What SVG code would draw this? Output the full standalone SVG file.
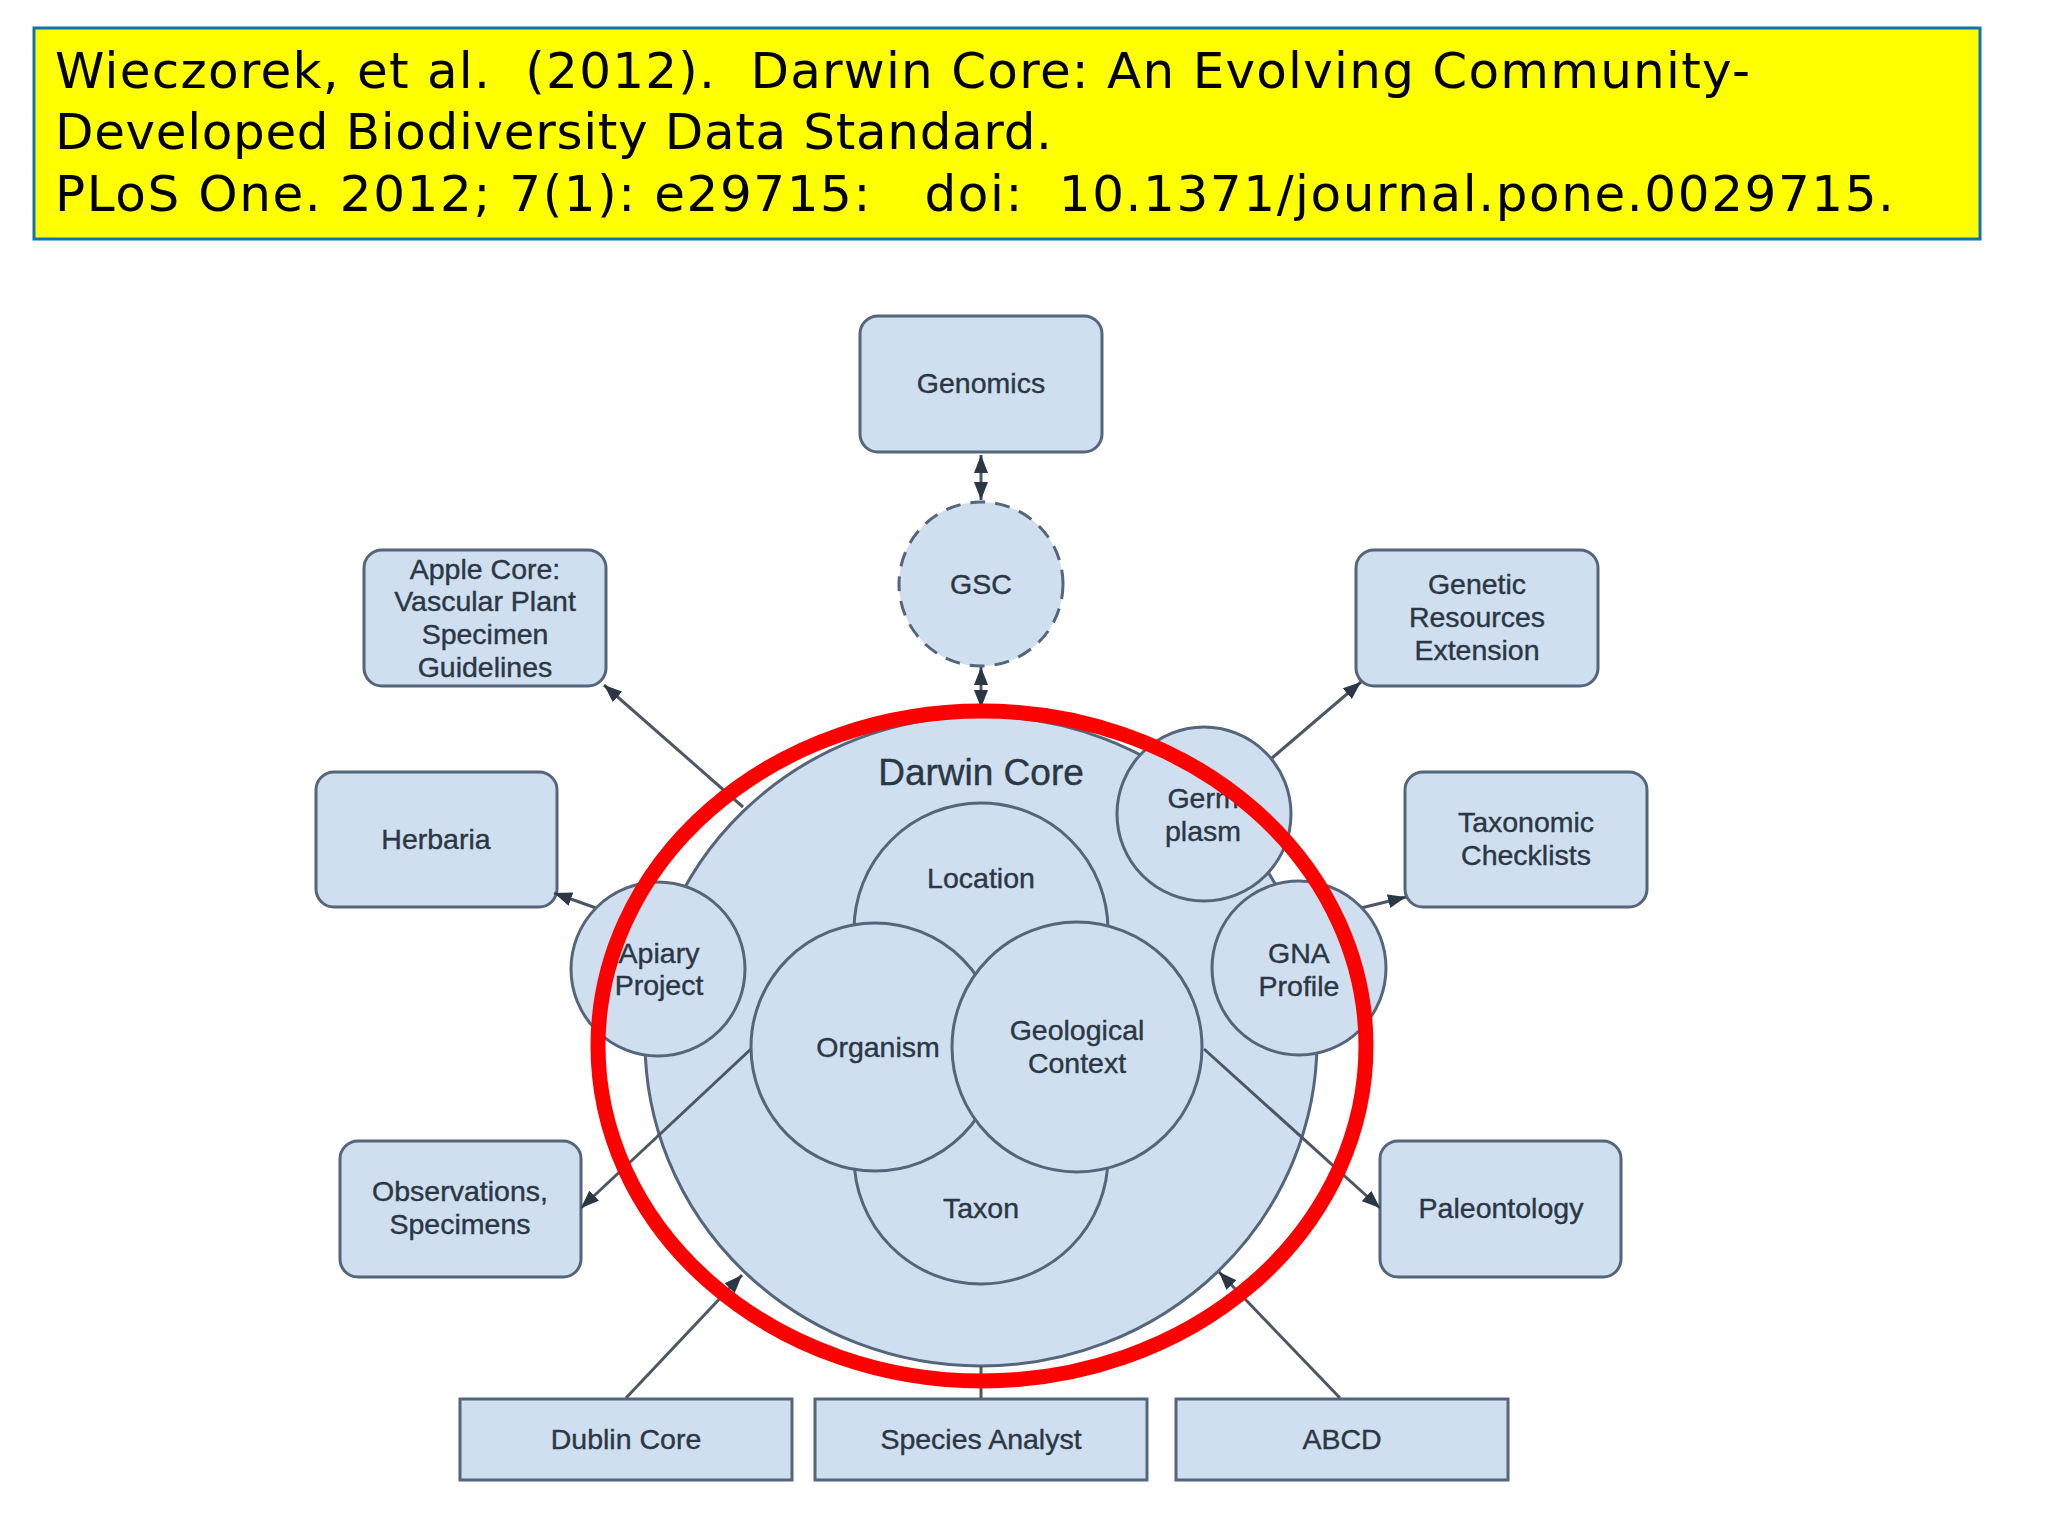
<svg xmlns="http://www.w3.org/2000/svg" width="2048" height="1536" viewBox="0 0 2048 1536">
<style>
.n{fill:#cfdfef;stroke:#55657a;stroke-width:3}
.t{font-family:"Liberation Sans",Arial,sans-serif;font-size:28.5px;fill:#2b3744;stroke:#2b3744;stroke-width:.4;text-anchor:middle}
.c{fill:none;stroke:#4d5764;stroke-width:3}
.h{font-family:"DejaVu Sans",Verdana,sans-serif;font-size:50px;fill:#000;white-space:pre}
</style>
<defs>
<marker id="a" markerUnits="userSpaceOnUse" markerWidth="20" markerHeight="16" refX="18" refY="8" orient="auto-start-reverse"><path d="M0 1L18 8L0 15Z" fill="#2b3744"/></marker>
</defs>
<rect width="2048" height="1536" fill="#fff"/>
<g id="citation">
<rect x="34" y="28" width="1946" height="211" fill="#ffff00" stroke="#0f73b5" stroke-width="3"/>
<text class="h" x="55" y="88" xml:space="preserve" textLength="1695" lengthAdjust="spacing">Wieczorek, et al.  (2012).  Darwin Core: An Evolving Community-</text>
<text class="h" x="55" y="149" xml:space="preserve" textLength="997" lengthAdjust="spacing">Developed Biodiversity Data Standard.</text>
<text class="h" x="55" y="211" xml:space="preserve" textLength="1839" lengthAdjust="spacing">PLoS One. 2012; 7(1): e29715:   doi:  10.1371/journal.pone.0029715.</text>
</g>
<g id="genomics"><rect class="n" x="860" y="316" width="242" height="136" rx="18"/><text class="t" x="981" y="393">Genomics</text></g>
<g id="gsc"><circle class="n" cx="981" cy="584" r="82" stroke-dasharray="15 10"/><text class="t" x="981" y="594">GSC</text></g>
<g id="apple-core"><rect class="n" x="364" y="550" width="242" height="136" rx="18"/>
<text class="t" x="485" y="579">Apple Core:</text><text class="t" x="485" y="611">Vascular Plant</text><text class="t" x="485" y="644">Specimen</text><text class="t" x="485" y="677">Guidelines</text></g>
<g id="genetic"><rect class="n" x="1356" y="550" width="242" height="136" rx="18"/>
<text class="t" x="1477" y="594">Genetic</text><text class="t" x="1477" y="627">Resources</text><text class="t" x="1477" y="660">Extension</text></g>
<g id="herbaria"><rect class="n" x="316" y="772" width="241" height="135" rx="18"/><text class="t" x="436" y="849">Herbaria</text></g>
<g id="taxonomic"><rect class="n" x="1405" y="772" width="242" height="135" rx="18"/>
<text class="t" x="1526" y="832">Taxonomic</text><text class="t" x="1526" y="865">Checklists</text></g>
<g id="observations"><rect class="n" x="340" y="1141" width="241" height="136" rx="18"/>
<text class="t" x="460" y="1201">Observations,</text><text class="t" x="460" y="1234">Specimens</text></g>
<g id="paleontology"><rect class="n" x="1380" y="1141" width="241" height="136" rx="18"/><text class="t" x="1501" y="1218">Paleontology</text></g>
<g id="dublin-core"><rect class="n" x="460" y="1399" width="332" height="81"/><text class="t" x="626" y="1449">Dublin Core</text></g>
<g id="species-analyst"><rect class="n" x="815" y="1399" width="332" height="81"/><text class="t" x="981" y="1449">Species Analyst</text></g>
<g id="abcd"><rect class="n" x="1176" y="1399" width="332" height="81"/><text class="t" x="1342" y="1449">ABCD</text></g>
<g id="darwin-core"><ellipse class="n" cx="981" cy="1041" rx="336" ry="325"/><text class="t" x="981" y="785" style="font-size:37px">Darwin Core</text></g>
<g id="connectors">
<path class="c" d="M981 455V500" marker-start="url(#a)" marker-end="url(#a)"/>
<path class="c" d="M981 667V708" marker-start="url(#a)" marker-end="url(#a)"/>
<path class="c" d="M743 807L604 685" marker-end="url(#a)"/>
<path class="c" d="M596 908L554 893" marker-end="url(#a)"/>
<path class="c" d="M751 1049L581 1208" marker-end="url(#a)"/>
<path class="c" d="M1204 1049L1380 1208" marker-end="url(#a)"/>
<path class="c" d="M1272 758L1361 682" marker-end="url(#a)"/>
<path class="c" d="M1361 908L1406 897" marker-end="url(#a)"/>
<path class="c" d="M626 1398L742 1275" marker-end="url(#a)"/>
<path class="c" d="M1340 1398L1219 1272" marker-end="url(#a)"/>
<path class="c" d="M981 1366V1398"/>
</g>
<g id="apiary"><circle class="n" cx="658" cy="969" r="87"/><text class="t" x="659" y="963">Apiary</text><text class="t" x="659" y="995">Project</text></g>
<g id="germplasm"><circle class="n" cx="1204" cy="814" r="87"/><text class="t" x="1203" y="808">Germ</text><text class="t" x="1203" y="841">plasm</text></g>
<g id="gna"><circle class="n" cx="1299" cy="968" r="87"/><text class="t" x="1299" y="963">GNA</text><text class="t" x="1299" y="996">Profile</text></g>
<g id="location"><circle class="n" cx="981" cy="930" r="127"/><text class="t" x="981" y="888">Location</text></g>
<g id="taxon"><circle class="n" cx="981" cy="1157" r="127"/><text class="t" x="981" y="1218">Taxon</text></g>
<g id="organism"><circle class="n" cx="875" cy="1047" r="124"/><text class="t" x="878" y="1057">Organism</text></g>
<g id="geological"><circle class="n" cx="1077" cy="1047" r="125"/><text class="t" x="1077" y="1040">Geological</text><text class="t" x="1077" y="1073">Context</text></g>
<ellipse id="highlight" cx="982" cy="1046" rx="384" ry="335" fill="none" stroke="#ff0000" stroke-width="15"/>
</svg>
